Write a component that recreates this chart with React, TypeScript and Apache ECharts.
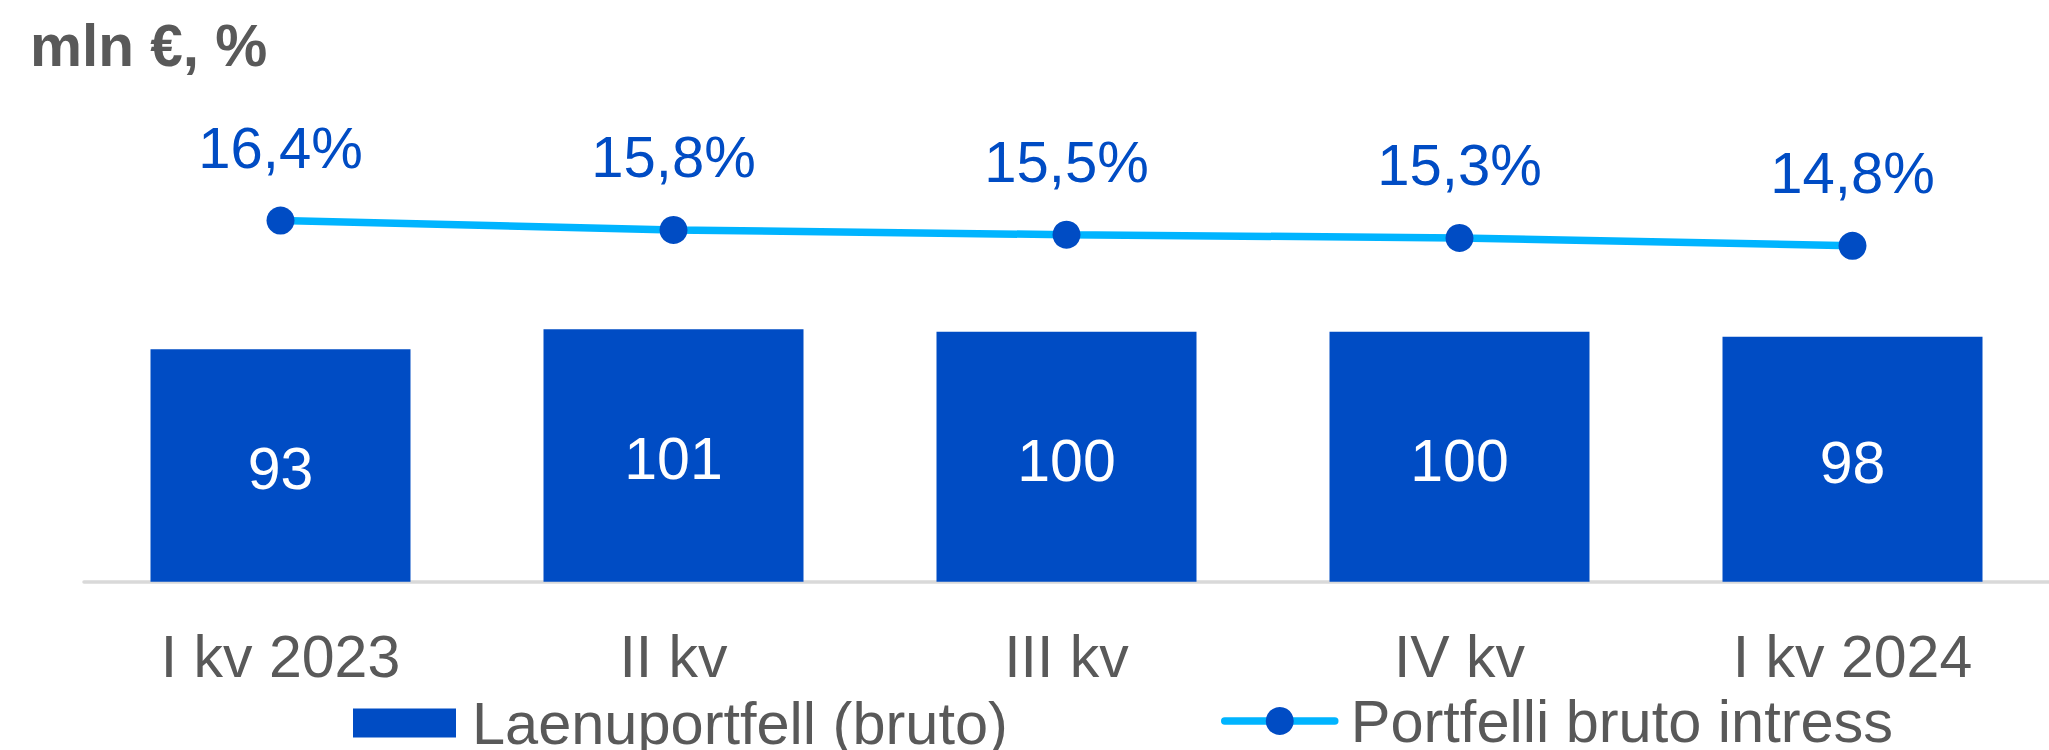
import React, { useEffect, useRef } from "react";
import * as echarts from "echarts";

const categories = ["I kv 2023", "II kv", "III kv", "IV kv", "I kv 2024"];
const portfolio = [93, 101, 100, 100, 98];
const interestRate = [16.4, 15.8, 15.5, 15.3, 14.8];
const barName = "Laenuportfell (bruto)";
const lineName = "Portfelli bruto intress";
const unitTitle = "mln €, %";

const FONT = "'Liberation Sans', Arial, sans-serif";
const GREY = "#595959";
const BLUE = "#004cc4";
const CYAN = "#00b4ff";

const legendText = {
  fontFamily: FONT,
  fontSize: 59.5,
  color: GREY,
  rich: { g: { width: 11, fontSize: 20 } },
};

export default function App() {
  const ref = useRef<HTMLDivElement>(null);
  useEffect(() => {
    if (!ref.current) return;
    const chart = echarts.init(ref.current, null, { renderer: "svg" });
    chart.setOption({
      animation: false,
      backgroundColor: "#ffffff",
      title: {
        text: unitTitle,
        left: 30,
        top: 16,
        padding: 0,
        textStyle: { fontFamily: FONT, fontSize: 58.5, fontWeight: "bold", color: GREY, lineHeight: 58 },
      },
      grid: { left: 84, top: 131.7, width: 1971, bottom: 168.3, containLabel: false },
      legend: [
        {
          data: [barName],
          left: 353,
          top: 693,
          padding: 0,
          itemWidth: 103,
          itemHeight: 29,
          icon: "rect",
          formatter: (n: string) => "{g| }" + n,
          textStyle: legendText,
        },
        {
          data: [lineName],
          left: 1221,
          top: 691,
          padding: 0,
          itemWidth: 110,
          itemHeight: 35,
          lineStyle: { color: CYAN, width: 7.5, cap: "round" },
          formatter: (n: string) => "{g| }" + n,
          textStyle: legendText,
        },
      ],
      xAxis: {
        type: "category",
        data: categories,
        offset: 2,
        axisLine: { show: true, lineStyle: { color: "#d9d9d9", width: 3.5 } },
        axisTick: { show: false },
        axisLabel: { fontFamily: FONT, fontSize: 59, color: GREY, margin: 43, lineHeight: 60 },
      },
      yAxis: [
        { type: "value", min: 0, max: 180, show: false, splitLine: { show: false } },
        { type: "value", min: -6.475, max: 22.025, show: false, splitLine: { show: false } },
      ],
      series: [
        {
          name: barName,
          type: "bar",
          data: portfolio,
          barWidth: 260,
          yAxisIndex: 0,
          itemStyle: { color: BLUE },
          label: {
            show: true,
            position: "inside",
            offset: [0, 4],
            fontFamily: FONT,
            fontSize: 59,
            lineHeight: 60,
            color: "#ffffff",
          },
        },
        {
          name: lineName,
          type: "line",
          data: interestRate,
          yAxisIndex: 1,
          symbol: "circle",
          symbolSize: 28,
          itemStyle: { color: BLUE },
          lineStyle: { color: CYAN, width: 7.5, cap: "round" },
          z: 5,
          label: {
            show: true,
            position: "top",
            distance: 29,
            fontFamily: FONT,
            fontSize: 58,
            lineHeight: 60,
            color: BLUE,
            formatter: (p: any) => p.value.toFixed(1).replace(".", ",") + "%",
          },
        },
      ],
    });
    return () => chart.dispose();
  }, []);
  return (
    <div
      ref={ref}
      style={{ position: "absolute", left: 0, top: 0, width: 2049, height: 750 }}
    />
  );
}
